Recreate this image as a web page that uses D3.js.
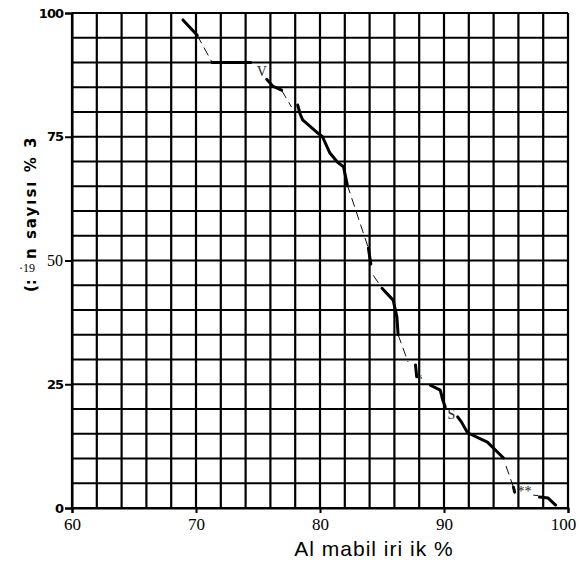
<!DOCTYPE html>
<html>
<head>
<meta charset="utf-8">
<script src="https://cdn.jsdelivr.net/npm/d3@7"></script>
<style>
  body { margin: 0; background: #fff; }
  svg { display: block; }
</style>
</head>
<body>
<main></main>
<script>
(function(){

  // DATA
  const xTicks = [60, 70, 80, 90, 100],
    yTicks = [0, 25, 50, 75, 100],
    xGrid = d3.range(60, 101, 2),
    yGrid = d3.range(0, 101, 5);

  // thick solid pieces of the curve
  const solid1 = [[68.95, 98.6], [70.1, 95.5]],
    solid2 = [[71.3, 90.0], [74.4, 90.0]],
    solid3 = [[75.7, 86.6], [76.2, 85.2], [76.9, 84.4]],
    solid4 = [[78.2, 81.4], [78.4, 79.6], [78.6, 78.4], [79.8, 75.8], [80.2, 75.0], [80.8, 71.7], [81.4, 69.9], [81.9, 68.9], [82.2, 65.3]],
    solid5 = [[83.9, 52.5], [84.1, 49.3]],
    solid6 = [[85.0, 44.4], [85.9, 42.0], [86.2, 38.6], [86.3, 35.0]],
    solid7 = [[87.7, 28.9], [87.8, 26.5]],
    solid8 = [[88.9, 24.8], [89.7, 23.8], [89.9, 21.8], [90.1, 20.4]],
    solid9 = [[91.1, 18.4], [91.4, 17.4], [91.9, 15.2], [93.5, 13.3], [94.8, 10.1]],
    solid10 = [[95.6, 4.2], [95.7, 3.2]],
    solid11 = [[97.7, 2.2], [98.4, 2.0], [99.0, 0.6]];

  // thin dashed pieces that join them
  const dashed1 = [[70.1, 95.5], [71.3, 90.0]],
    dashed2 = [[76.9, 84.4], [77.7, 81.0]],
    dashed3 = [[82.2, 65.3], [83.9, 52.5]],
    dashed4 = [[84.3, 47.0], [85.0, 44.4]],
    dashed5 = [[86.3, 35.0], [87.1, 29.5]],
    dashed6 = [[95.0, 8.5], [95.6, 4.2]],
    dashed7 = [[97.2, 2.6], [97.6, 2.5]];

  const noteText = ["V", "s", "S", "**"],
    noteX = [75.3, 88.1, 90.6, 96.5],
    noteY = [87.2, 26.0, 18.0, 2.4];

  const w = 579,
    h = 563,
    margin = {top: 13, right: 11, bottom: 55, left: 72};

  const svg = d3.select("main")
    .append("svg")
    .attr("width", w)
    .attr("height", h);

  const xScale = d3.scaleLinear()
    .domain([60, 100])
    .range([margin.left, w - margin.right]);

  const yScale = d3.scaleLinear()
    .domain([0, 100])
    .range([h - margin.bottom, margin.top]);

  // GRID
  svg.append("g")
    .selectAll("line")
    .data(xGrid)
    .enter()
    .append("line")
    .attr("x1", d => xScale(d))
    .attr("x2", d => xScale(d))
    .attr("y1", yScale(0))
    .attr("y2", yScale(100))
    .attr("stroke", "#000")
    .attr("stroke-width", 2.2);

  svg.append("g")
    .selectAll("line")
    .data(yGrid)
    .enter()
    .append("line")
    .attr("x1", xScale(60))
    .attr("x2", xScale(100))
    .attr("y1", d => yScale(d))
    .attr("y2", d => yScale(d))
    .attr("stroke", "#000")
    .attr("stroke-width", 2.2);

  // AXES
  const xAxis = d3.axisBottom(xScale).tickValues(xTicks).tickSize(5).tickFormat(d3.format("d"));
  const yAxis = d3.axisLeft(yScale).tickValues(yTicks).tickSize(7).tickFormat(d3.format("d"));

  const gx = svg.append("g")
    .attr("transform", "translate(0," + yScale(0) + ")")
    .call(xAxis);
  gx.select(".domain").attr("stroke-width", 2);
  gx.selectAll(".tick line").attr("stroke-width", 2);
  gx.selectAll(".tick text")
    .attr("y", 10)
    .attr("dx", d => d === 100 ? -5 : 0)
    .attr("font-family", "Liberation Serif")
    .attr("font-size", 17)
    .attr("fill", "#000");

  const gy = svg.append("g")
    .attr("transform", "translate(" + xScale(60) + ",0)")
    .call(yAxis);
  gy.select(".domain").attr("stroke-width", 2);
  gy.selectAll(".tick line").attr("stroke-width", 2);
  gy.selectAll(".tick text")
    .attr("x", -9)
    .attr("font-family", d => d === 50 ? "Liberation Serif" : "DejaVu Sans")
    .attr("font-weight", d => d === 50 ? "normal" : "bold")
    .attr("font-size", d => d === 50 ? 16 : 13)
    .attr("letter-spacing", d => d === 50 ? 0 : -1)
    .attr("fill", "#000");

  // CURVE
  const line = d3.line()
    .x(d => xScale(d[0]))
    .y(d => yScale(d[1]));

  svg.append("g")
    .selectAll("path")
    .data([dashed1, dashed2, dashed3, dashed4, dashed5, dashed6, dashed7])
    .enter()
    .append("path")
    .attr("d", line)
    .attr("fill", "none")
    .attr("stroke", "#111")
    .attr("stroke-width", 1)
    .attr("stroke-dasharray", "9,5");

  svg.append("g")
    .selectAll("path")
    .data([solid1, solid2, solid3, solid4, solid5, solid6, solid7, solid8, solid9, solid10, solid11])
    .enter()
    .append("path")
    .attr("d", line)
    .attr("fill", "none")
    .attr("stroke", "#000")
    .attr("stroke-width", 3)
    .attr("stroke-linejoin", "round")
    .attr("stroke-linecap", "round");

  svg.append("g")
    .selectAll("text")
    .data(noteText)
    .enter()
    .append("text")
    .attr("x", (d, i) => xScale(noteX[i]))
    .attr("y", (d, i) => yScale(noteY[i]))
    .attr("font-family", "Liberation Serif")
    .attr("font-size", (d, i) => i === 1 ? 9 : 14)
    .attr("fill", "#222")
    .attr("text-anchor", "middle")
    .text(d => d);

  // TITLES
  svg.append("text")
    .attr("x", 374)
    .attr("y", 556)
    .attr("text-anchor", "middle")
    .attr("font-family", "Liberation Sans")
    .attr("font-size", 21)
    .attr("letter-spacing", 1)
    .attr("fill", "#000")
    .text("Al mabil iri ik %");

  svg.append("text")
    .attr("transform", "translate(36,292) rotate(-90)")
    .attr("font-family", "DejaVu Sans")
    .attr("font-weight", "bold")
    .attr("font-size", 15)
    .attr("fill", "#000")
    .text("(:");

  svg.append("text")
    .attr("transform", "translate(36,259) rotate(-90)")
    .attr("font-family", "DejaVu Sans")
    .attr("font-weight", "bold")
    .attr("font-size", 15)
    .attr("letter-spacing", 2)
    .attr("fill", "#000")
    .text("n sayısı % 3");

  svg.append("text")
    .attr("x", 19)
    .attr("y", 272)
    .attr("font-family", "Liberation Serif")
    .attr("font-size", 12)
    .attr("fill", "#000")
    .text("·19");

})()
</script>
</body>
</html>
